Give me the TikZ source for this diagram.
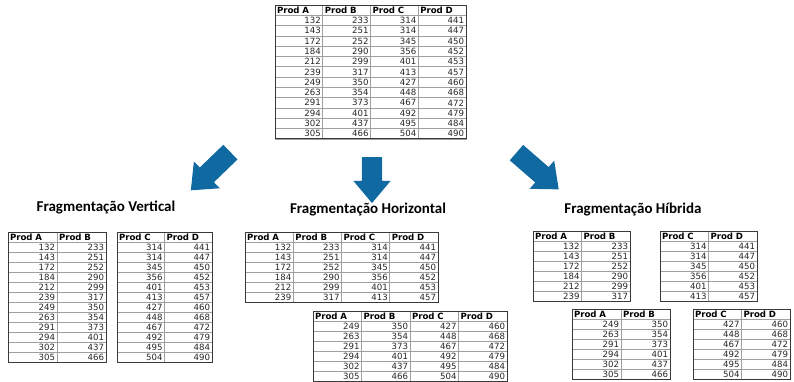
\documentclass[tikz,border=0pt]{standalone}
\usepackage{fontspec}
\setmainfont{Carlito}
\newfontfamily\tabfont{DejaVu Sans}
\usetikzlibrary{shapes.arrows}

\definecolor{setaazul}{RGB}{16,105,160}

\tikzset{
  celula/.style={draw=gray!75, line width=0.6pt, anchor=north west, outer sep=0pt,
    inner xsep=2pt, inner ysep=0pt, font=\tabfont\fontsize{8.6}{10}\selectfont, text=black!85},
  numero/.style={celula, text width=#1, align=right},
  cabecalho/.style={celula, text width=#1, align=left,
    font=\tabfont\bfseries\fontsize{8.6}{10}\selectfont, text=black},
  borda/.style={draw=gray!45!black, line width=0.9pt},
  seta/.style={single arrow, fill=setaazul, draw=none, minimum width=37pt,
    inner xsep=0pt, inner ysep=10pt,
    single arrow head extend=8.5pt, single arrow tip angle=80},
  titulo/.style={font=\bfseries\fontsize{15}{18}\selectfont}
}

% nome, x, y, largura da coluna, altura da linha, cabecalhos, linhas
\newcommand{\tabela}[7]{%
  \pgfmathsetmacro{\larg}{#4-4}
  \foreach \h [count=\j] in {#6}{
    \node[cabecalho=\larg pt, minimum height=#5pt] (#1-0-\j) at ({#2+(\j-1)*#4},#3) {\h};
    \xdef\ultcol{\j}
  }
  \foreach \linha [count=\i] in {#7}{
    \foreach \v [count=\j] in \linha
      \node[numero=\larg pt, minimum height=#5pt] (#1-\i-\j) at ({#2+(\j-1)*#4},{#3+\i*#5}) {\v};
    \xdef\ultlinha{\i}
  }
  \draw[borda] (#1-0-1.north west) rectangle (#1-\ultlinha-\ultcol.south east);
}

\begin{document}
\begin{tikzpicture}[x=1pt,y=-1pt]
\useasboundingbox (0,0) rectangle (794,382);

% tabela original
\tabela{original}{275}{5}{47.75}{10.3}{Prod A,Prod B,Prod C,Prod D}
  {{132,233,314,441},{143,251,314,447},{172,252,345,450},{184,290,356,452},
   {212,299,401,453},{239,317,413,457},{249,350,427,460},{263,354,448,468},
   {291,373,467,472},{294,401,492,479},{302,437,495,484},{305,466,504,490}}

% setas
\node[seta, minimum height=55pt, rotate=-136] (setaV) at (215,167) {};
\node[seta, minimum height=46pt, rotate=-90] (setaH) at (372,174) {};
\node[seta, minimum height=56pt, rotate=-41] (setaHib) at (533,167) {};

% titulos
\node[titulo] (tVertical) at (106,207) {Fragmentação Vertical};
\node[titulo] (tHorizontal) at (368,210) {Fragmentação Horizontal};
\node[titulo] (tHibrida) at (633,210) {Fragmentação Híbrida};

% fragmentacao vertical
\tabela{vertA}{8}{232}{49}{10}{Prod A,Prod B}
  {{132,233},{143,251},{172,252},{184,290},{212,299},{239,317},
   {249,350},{263,354},{291,373},{294,401},{302,437},{305,466}}
\tabela{vertC}{117}{232}{47.5}{10}{Prod C,Prod D}
  {{314,441},{314,447},{345,450},{356,452},{401,453},{413,457},
   {427,460},{448,468},{467,472},{492,479},{495,484},{504,490}}

% fragmentacao horizontal
\tabela{horiz1}{245}{232}{48.25}{10}{Prod A,Prod B,Prod C,Prod D}
  {{132,233,314,441},{143,251,314,447},{172,252,345,450},{184,290,356,452},
   {212,299,401,453},{239,317,413,457}}
\tabela{horiz2}{313}{311}{48.5}{10}{Prod A,Prod B,Prod C,Prod D}
  {{249,350,427,460},{263,354,448,468},{291,373,467,472},{294,401,492,479},
   {302,437,495,484},{305,466,504,490}}

% fragmentacao hibrida
\tabela{hibA1}{533}{231}{48.5}{10}{Prod A,Prod B}
  {{132,233},{143,251},{172,252},{184,290},{212,299},{239,317}}
\tabela{hibC1}{660}{231}{48.5}{10}{Prod C,Prod D}
  {{314,441},{314,447},{345,450},{356,452},{401,453},{413,457}}
\tabela{hibA2}{572}{309}{49}{10}{Prod A,Prod B}
  {{249,350},{263,354},{291,373},{294,401},{302,437},{305,466}}
\tabela{hibC2}{693}{309}{48.5}{10}{Prod C,Prod D}
  {{427,460},{448,468},{467,472},{492,479},{495,484},{504,490}}
\end{tikzpicture}
\end{document}
